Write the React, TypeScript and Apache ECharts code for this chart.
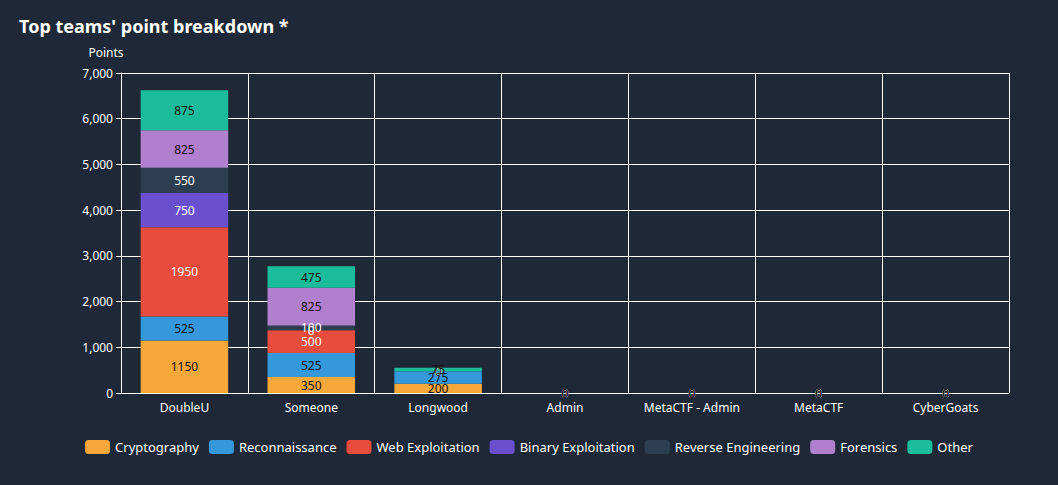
import React, { useEffect, useRef } from "react";
import * as echarts from "echarts";

const teams = ["DoubleU", "Someone", "Longwood", "Admin", "MetaCTF - Admin", "MetaCTF", "CyberGoats"];
const categories = ["Cryptography", "Reconnaissance", "Web Exploitation", "Binary Exploitation", "Reverse Engineering", "Forensics", "Other"];
const cryptography = [1150, 350, 200, 0, 0, 0, 0];
const reconnaissance = [525, 525, 275, 0, 0, 0, 0];
const webExploitation = [1950, 500, 0, 0, 0, 0, 0];
const binaryExploitation = [750, 0, 0, 0, 0, 0, 0];
const reverseEngineering = [550, 100, 0, 0, 0, 0, 0];
const forensics = [825, 825, 0, 0, 0, 0, 0];
const other = [875, 475, 75, 0, 0, 0, 0];
const seriesValues = [cryptography, reconnaissance, webExploitation, binaryExploitation, reverseEngineering, forensics, other];
const colors = ["#f8a73b", "#3498db", "#e74c3c", "#6a4fcf", "#2c3e50", "#b07fce", "#1abc9c"];
const labelColors = ["#111", "#111", "#fff", "#fff", "#fff", "#111", "#111"];

export default function App() {
  const ref = useRef<HTMLDivElement>(null);
  useEffect(() => {
    document.body.style.margin = "0";
    const chart = echarts.init(ref.current!, null, { renderer: "svg" });
    chart.setOption({
      animation: false,
      backgroundColor: "#1e2836",
      textStyle: { fontFamily: "Noto Sans" },
      title: { text: "Top teams' point breakdown *", left: 14, top: 12, textStyle: { color: "#fff", fontSize: 18, fontWeight: "bold" } },
      legend: {
        bottom: 26, left: "center", itemWidth: 25, itemHeight: 14, itemGap: 10,
        textStyle: { color: "#fff", fontSize: 13 }, data: categories,
      },
      grid: { left: 121, right: 49, top: 73, bottom: 92 },
      xAxis: {
        type: "category", data: teams,
        axisLine: { lineStyle: { color: "#fff" } },
        axisTick: { lineStyle: { color: "#fff" } },
        axisLabel: { color: "#fff", fontSize: 12, interval: 0 },
        splitLine: { show: true, interval: 0, lineStyle: { color: "#fff" } },
      },
      yAxis: {
        type: "value", name: "Points", min: 0, max: 7000, interval: 1000,
        nameTextStyle: { color: "#fff", fontSize: 12, padding: [0, 30, 0, 0] },
        axisLine: { show: true, lineStyle: { color: "#fff" } },
        axisTick: { show: true, lineStyle: { color: "#fff" } },
        axisLabel: { color: "#fff", fontSize: 12, formatter: (v: number) => v.toLocaleString("en-US") },
        splitLine: { lineStyle: { color: "#fff" } },
      },
      series: categories.map((name, i) => ({
        name, type: "bar", stack: "total", data: seriesValues[i], barWidth: "69%",
        itemStyle: { color: colors[i] },
        label: {
          show: true, position: "inside", fontSize: 12,
          color: labelColors[i],
          formatter: (p: any) => String(p.value),
        },
      })),
    });
    return () => chart.dispose();
  }, []);
  return <div ref={ref} style={{ width: 1058, height: 485 }} />;
}
